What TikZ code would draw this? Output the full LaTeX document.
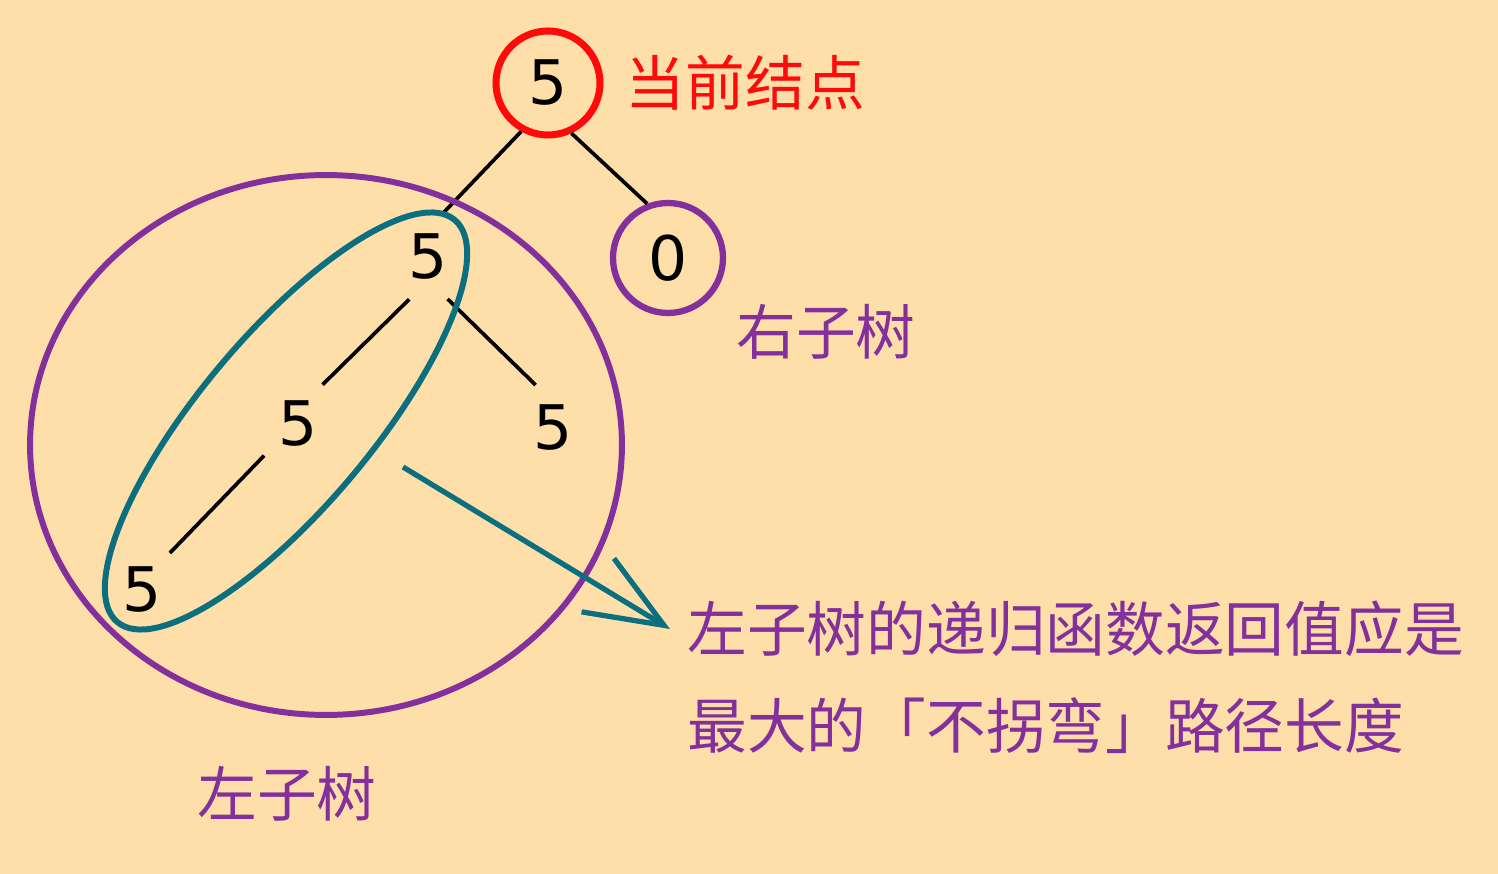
\documentclass[tikz,border=0pt]{standalone}
\usepackage{fontspec}
\setmainfont{DejaVu Sans}
\newfontfamily\cjk{Noto Sans CJK SC}
\usetikzlibrary{arrows.meta, positioning}
\definecolor{bgpeach}{HTML}{FFDFA9}
\definecolor{curred}{HTML}{FF0A0A}
\definecolor{subpurple}{HTML}{84309C}
\definecolor{pathteal}{HTML}{0C6F80}

\begin{document}
\begin{tikzpicture}[
    x=0.02cm, y=-0.02cm,
    num/.style={
        circle, inner sep=0pt, minimum size=1.84cm,
        font=\fontsize{35}{40}\selectfont
    },
    ring/.style={num, line width=3.6pt},
    edge/.style={line width=2.1pt, black},
    hull/.style={line width=3.4pt},
    lab/.style={inner sep=0pt, font=\cjk\fontsize{34}{40}\selectfont},
    arr/.style={-{Straight Barb[length=1.55cm, width=1.25cm]}, line width=3pt, pathteal}
]

% --- Fond ---
\fill[bgpeach] (0,0) rectangle (1498,874);
\useasboundingbox (0,0) rectangle (1498,874);

% --- Nœuds ---
\node[ring, draw=curred, line width=4pt, minimum size=2.08cm] (root) at (548,83) {5};
\node[ring, draw=subpurple, minimum size=2.2cm] (rchild) at (668,258) {0};
\node[num] (lchild) at (428,257) {5};
\node[num] (ll)     at (298,424) {5};
\node[num] (lr)     at (553,428) {5};
\node[num] (lll)    at (142,590) {5};

% --- Arêtes ---
\draw[edge] (root.241) -- (lchild.71);
\draw[edge] (root.295) -- (rchild.111);
\draw[edge] (lchild.246) -- (ll.58);
\draw[edge] (lchild.295) -- (lr.112);
\draw[edge] (ll.223) -- (lll.53);

% --- Sous-arbres ---
\draw[hull, subpurple] (326,445) ellipse [x radius=5.92cm, y radius=5.4cm];
\draw[hull, pathteal, rotate around={50:(286,421)}]
    (286,421) ellipse [x radius=5.25cm, y radius=1.72cm];

% --- Étiquettes ---
\node[lab, curred, right=0.44cm of root] (curlab) {当前结点};
\node[lab, subpurple] (rlab) at (826,332) {右子树};
\node[lab, subpurple] (llab) at (287,794) {左子树};
\node[lab, subpurple, anchor=west] (desc1) at (687,629) {左子树的递归函数返回值应是};
\node[lab, subpurple, anchor=west] (desc2) at (687,726) {最大的「不拐弯」路径长度};

% 1. Flèche : chemin gauche → explication
\coordinate (ptr) at (403,467);
\draw[arr] (ptr) -- ([xshift=-0.34cm]desc1.west);

\end{tikzpicture}
\end{document}
